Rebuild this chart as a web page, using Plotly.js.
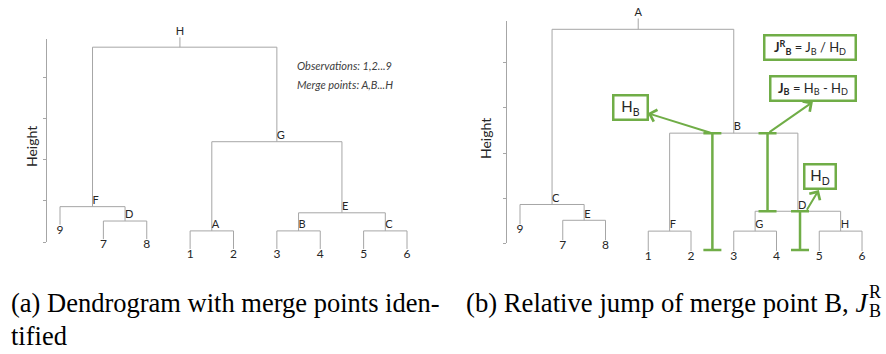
<!DOCTYPE html>
<html><head><meta charset="utf-8">
<script src="https://cdn.plot.ly/plotly-3.0.1.min.js"></script>
<style>html,body{margin:0;padding:0;background:#fff}</style>
</head><body><div id="chart" style="width:886px;height:354px"></div>
<script>
// ---- data (same tree drawn in both panels) ----
const leafLabels = ["9","7","8","1","2","3","4","5","6"];
// merge children: "L<i>" = leaf position i, "M<j>" = merge j
const mergeLeft   = ["L3","L5","L7","L1","M1","L0","M0","M5"];
const mergeRight  = ["L4","L6","L8","L2","M2","M3","M4","M6"];
const mergeHeight = [0.27, 0.27, 0.27, 0.51, 0.71, 0.86, 2.44, 4.74];
const mergeNamesA = ["A","B","C","D","E","F","G","H"];
const mergeNamesB = ["F","G","H","E","D","C","B","A"];
const leafHang = 0.44;
const rootStem = 0.24;
const rootStemShift = -0.11;
const axisTicks = [0, 1, 2, 3, 4];
const obsText = ["Observations: 1,2...9", "Merge points: A,B...H"];
// panel (b) height markers
const beamX      = [4.50, 5.79, 6.55];
const beamTop    = [2.44, 2.44, 0.71];
const beamBottom = [-0.15, 0.71, -0.15];
const arrowTailX = [4.49, 5.80, 6.69];
const arrowTailY = [2.44, 2.44, 0.71];
const arrowHeadX = [2.99, 6.85, 6.99];
const arrowHeadY = [2.88, 3.13, 1.18];
const boxText = ["H<sub>B</sub>",
  "<b>J<sub>B</sub></b> = H<sub>B</sub> - H<sub>D</sub>",
  "<b>J<sup>R</sup><sub>B</sub></b> = J<sub>B</sub> / H<sub>D</sub>",
  "H<sub>D</sub>"];
const boxX = [2.59, 6.85, 6.78, 7.025];
const boxY = [3.01, 3.435, 4.343, 1.486];
const boxW = [32, 83, 89, 29];
const captionA = ["(a) Dendrogram with merge points iden-", "tified"];
const captionB = ["(b) Relative jump of merge point B, <i>J</i>", "R", "B"];

const GRAY = '#a6a6a6', GREEN = '#70ad47', TXT = '#262626';
const FONT = 'Lato, Open Sans, sans-serif';
const CAP = 'Liberation Serif, Times New Roman, serif';

function buildTree(names, xa, ya) {
  const n = mergeHeight.length;
  const mx = new Array(n);
  const pos = c => c[0] === 'L' ? +c.slice(1) : mx[+c.slice(1)];
  const top = (c, h) => c[0] === 'L' ? h - leafHang : mergeHeight[+c.slice(1)];
  const lx = [], ly = [];
  const leafBottom = new Array(leafLabels.length);
  for (let j = 0; j < n; j++) {
    const a = mergeLeft[j], b = mergeRight[j], h = mergeHeight[j];
    const xa_ = pos(a), xb_ = pos(b);
    mx[j] = (xa_ + xb_) / 2;
    lx.push(xa_, xa_, xb_, xb_, null);
    ly.push(top(a, h), h, h, top(b, h), null);
    if (a[0] === 'L') leafBottom[+a.slice(1)] = h - leafHang;
    if (b[0] === 'L') leafBottom[+b.slice(1)] = h - leafHang;
  }
  const r = n - 1;
  const sx = mx[r] + rootStemShift;
  lx.push(sx, sx, null);
  ly.push(mergeHeight[r], mergeHeight[r] + rootStem, null);
  const traces = [];
  traces.push({type:'scatter', mode:'lines', x:lx, y:ly, xaxis:xa, yaxis:ya,
    line:{color:GRAY, width:1}, hoverinfo:'skip', showlegend:false});
  traces.push({type:'scatter', mode:'text', x:mx.slice(0, r), y:mergeHeight.slice(0, r),
    text:names.slice(0, r), textposition:'top right', cliponaxis:false,
    textfont:{family:FONT, size:11, color:TXT}, xaxis:xa, yaxis:ya, hoverinfo:'skip', showlegend:false});
  traces.push({type:'scatter', mode:'text', x:[sx], y:[mergeHeight[r] + rootStem],
    text:[names[r]], textposition:'top center', cliponaxis:false,
    textfont:{family:FONT, size:11, color:TXT}, xaxis:xa, yaxis:ya, hoverinfo:'skip', showlegend:false});
  traces.push({type:'scatter', mode:'text', x:leafLabels.map((_, i) => i), y:leafBottom,
    text:leafLabels, textposition:'bottom center', cliponaxis:false,
    textfont:{family:FONT, size:12, color:TXT}, xaxis:xa, yaxis:ya, hoverinfo:'skip', showlegend:false});
  return traces;
}

const traces = [].concat(buildTree(mergeNamesA, 'x', 'y'), buildTree(mergeNamesB, 'x2', 'y2'));
// invisible helper traces so the free "Height" axes are drawn
traces.push({type:'scatter', mode:'markers', x:[0], y:axisTicks.slice(0,1), xaxis:'x', yaxis:'y3',
  marker:{opacity:0}, hoverinfo:'skip', showlegend:false});
traces.push({type:'scatter', mode:'markers', x:[0], y:axisTicks.slice(0,1), xaxis:'x2', yaxis:'y4',
  marker:{opacity:0}, hoverinfo:'skip', showlegend:false});
// green height bars of panel (b)
traces.push({type:'scatter', mode:'markers', x:beamX, y:beamBottom, xaxis:'x2', yaxis:'y2',
  marker:{opacity:0, size:1}, hoverinfo:'skip', showlegend:false, cliponaxis:false,
  error_y:{type:'data', symmetric:false, array:beamTop.map((t, i) => t - beamBottom[i]),
    arrayminus:beamTop.map(() => 0), color:GREEN, thickness:2.5, width:9}});

const spine = (dom, range, posn) => ({domain:dom, range:range, anchor:'free', position:posn,
  showline:true, linecolor:GRAY, linewidth:1, ticks:'outside', ticklen:3, tickcolor:GRAY,
  tickwidth:1, tickvals:axisTicks, showticklabels:false, showgrid:false, zeroline:false, fixedrange:true});
const hidden = (dom, range, anchor) => ({domain:dom, range:range, anchor:anchor, visible:false, fixedrange:true});

const annotations = [];
annotations.push({xref:'paper', yref:'paper', x:31/886, y:(354-147)/354, xanchor:'center', yanchor:'middle',
  text:'Height', textangle:-90, showarrow:false, font:{family:FONT, size:14, color:TXT}});
annotations.push({xref:'paper', yref:'paper', x:485/886, y:(354-138)/354, xanchor:'center', yanchor:'middle',
  text:'Height', textangle:-90, showarrow:false, font:{family:FONT, size:14, color:TXT}});
obsText.forEach((t, i) => annotations.push({xref:'paper', yref:'paper', x:295/886, y:(354-66-18*i)/354,
  xanchor:'left', yanchor:'middle', text:'<i>' + t + '</i>', showarrow:false,
  font:{family:FONT, size:11, color:'#404040'}}));
for (let i = 0; i < arrowHeadX.length; i++) {
  annotations.push({xref:'x2', yref:'y2', axref:'x2', ayref:'y2', x:arrowHeadX[i], y:arrowHeadY[i],
    ax:arrowTailX[i], ay:arrowTailY[i], text:'', showarrow:true, arrowhead:4, arrowsize:1.2,
    arrowwidth:2, arrowcolor:GREEN, standoff:0, startstandoff:0});
}
for (let i = 0; i < boxText.length; i++) {
  annotations.push({xref:'x2', yref:'y2', x:boxX[i], y:boxY[i], text:boxText[i], showarrow:false,
    bordercolor:GREEN, borderwidth:2.5, borderpad:0, bgcolor:'#fff', width:boxW[i], height:22,
    font:{family:FONT, size:i === 0 || i === 3 ? 15 : 13, color:TXT}});
}
annotations.push({xref:'paper', yref:'paper', x:9/886, y:(354-303)/354, xanchor:'left', yanchor:'middle',
  text:captionA[0], showarrow:false, font:{family:CAP, size:26.5, color:'#000'}});
annotations.push({xref:'paper', yref:'paper', x:9/886, y:(354-336)/354, xanchor:'left', yanchor:'middle',
  text:captionA[1], showarrow:false, font:{family:CAP, size:26.5, color:'#000'}});
annotations.push({xref:'paper', yref:'paper', x:464/886, y:(354-303)/354, xanchor:'left', yanchor:'middle',
  text:captionB[0], showarrow:false, font:{family:CAP, size:26.7, color:'#000'}});
annotations.push({xref:'paper', yref:'paper', x:867/886, y:(354-292)/354, xanchor:'left', yanchor:'middle',
  text:captionB[1], showarrow:false, font:{family:CAP, size:18, color:'#000'}});
annotations.push({xref:'paper', yref:'paper', x:867/886, y:(354-311)/354, xanchor:'left', yanchor:'middle',
  text:captionB[2], showarrow:false, font:{family:CAP, size:18, color:'#000'}});

const layout = {
  width:886, height:354, margin:{l:0, r:0, t:0, b:0}, paper_bgcolor:'#fff', plot_bgcolor:'rgba(0,0,0,0)',
  showlegend:false,
  xaxis: hidden([0, 0.5], [-1.3833, 8.830], 'y'),
  yaxis: hidden([64/354, 1], [-1.168, 5.888], 'x'),
  xaxis2: hidden([0.5, 1], [-1.801, 8.561], 'y2'),
  yaxis2: hidden([64/354, 1], [-1.034, 5.389], 'x2'),
  yaxis3: spine([(354-242)/354, (354-39)/354], [0, 4.939], 46/886),
  yaxis4: spine([(354-243.3)/354, (354-21)/354], [0, 4.924], 506/886),
  annotations: annotations
};
Plotly.newPlot('chart', traces, layout, {displayModeBar:false, staticPlot:true});
</script></body></html>
